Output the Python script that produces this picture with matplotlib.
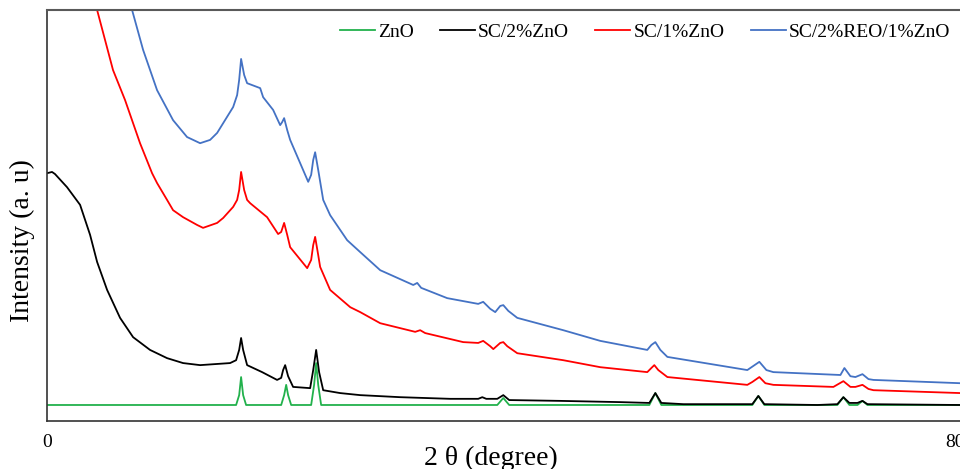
import matplotlib
matplotlib.use("Agg")
import matplotlib.pyplot as plt

# values (2 theta axis units, intensity in a.u. 0-100)
zno_x = [0.0, 16.65, 16.92, 17.09, 17.27, 17.53, 20.62, 20.88, 21.06, 21.23, 21.50,
         23.26, 23.52, 23.70, 23.88, 24.14, 39.65, 40.18, 40.70, 53.04, 53.57, 54.10,
         62.11, 62.64, 63.17, 69.60, 70.13, 70.66, 71.37, 71.81, 72.25, 80.4]
zno_y = [3.9, 3.9, 6.3, 10.7, 6.3, 3.9, 3.9, 6.3, 8.8, 6.3, 3.9,
         3.9, 8.8, 14.1, 8.8, 3.9, 3.9, 5.6, 3.9, 3.9, 6.8, 3.9,
         3.9, 6.1, 3.9, 3.9, 5.8, 3.9, 3.9, 4.9, 3.9, 3.9]

sc2_x = [0.0, 0.44, 0.70, 1.76, 2.91, 3.79, 4.41, 5.29, 6.43, 7.58, 9.07, 10.57,
         11.98, 13.48, 16.12, 16.65, 16.92, 17.09, 17.27, 17.62, 18.94, 20.26, 20.62,
         20.79, 20.97, 21.23, 21.67, 23.17, 23.44, 23.70, 23.96, 24.32, 25.81, 27.58,
         31.10, 35.51, 37.97, 38.33, 38.68, 39.65, 40.18, 40.70, 45.20, 50.48, 53.04,
         53.57, 54.10, 56.04, 62.11, 62.64, 63.17, 67.84, 69.60, 70.13, 70.66, 71.37,
         71.81, 72.25, 80.4]
sc2_y = [60.3, 60.6, 60.1, 56.9, 52.6, 45.3, 38.7, 31.9, 25.1, 20.4, 17.3, 15.3,
         14.1, 13.6, 14.1, 14.8, 17.3, 20.2, 17.3, 13.6, 11.9, 10.0, 10.5,
         12.4, 13.6, 10.9, 8.3, 8.0, 12.4, 17.3, 11.9, 7.5, 6.8, 6.3,
         5.8, 5.4, 5.4, 5.8, 5.4, 5.4, 6.3, 5.1, 4.9, 4.6, 4.4,
         6.8, 4.4, 4.1, 4.1, 6.1, 4.1, 3.9, 4.1, 5.8, 4.4, 4.4,
         4.9, 4.1, 3.9]

sc1_x = [3.79, 4.41, 5.11, 5.81, 6.87, 8.19, 9.25, 9.69, 10.57, 11.10, 11.98, 13.22,
         13.74, 14.98, 15.51, 16.39, 16.74, 16.92, 17.09, 17.36, 17.62, 17.89, 19.38,
         20.35, 20.62, 20.88, 21.15, 21.41, 22.91, 23.26, 23.44, 23.61, 23.88, 24.05,
         24.93, 26.70, 27.58, 29.34, 32.42, 32.86, 33.30, 36.65, 37.97, 38.41, 39.03,
         39.30, 39.91, 40.18, 40.53, 41.41, 45.46, 48.72, 52.86, 53.22, 53.48, 53.83,
         54.63, 61.67, 62.11, 62.73, 63.26, 63.96, 69.25, 70.13, 70.75, 71.19, 71.81,
         72.34, 72.78, 80.44]
sc1_y = [106.3, 100.0, 92.7, 85.4, 78.1, 67.6, 60.3, 57.9, 53.8, 51.3, 49.6, 47.7,
         47.0, 48.2, 49.4, 52.1, 53.8, 56.2, 60.6, 56.2, 53.8, 53.0, 49.6,
         45.5, 46.0, 48.2, 45.3, 42.3, 37.2, 39.2, 42.8, 44.8, 40.4, 37.5,
         31.9, 27.7, 26.5, 23.8, 21.7, 22.1, 21.4, 19.2, 19.0, 19.5, 18.2,
         17.5, 19.0, 19.2, 18.2, 16.5, 14.8, 13.1, 11.9, 12.9, 13.6, 12.4,
         10.7, 8.8, 9.5, 10.7, 9.2, 8.8, 8.3, 9.7, 8.3, 8.3, 8.8,
         7.8, 7.5, 6.8]

reo_x = [6.87, 7.49, 8.46, 9.69, 11.10, 12.33, 13.48, 14.36, 14.98, 16.39, 16.74, 16.92,
         17.09, 17.36, 17.62, 18.77, 19.03, 19.91, 20.53, 20.70, 20.88, 21.15, 21.41,
         23.00, 23.26, 23.44, 23.61, 23.88, 24.32, 24.93, 26.43, 27.58, 29.34, 32.25,
         32.60, 32.95, 35.24, 37.97, 38.41, 39.03, 39.47, 39.91, 40.18, 40.62, 41.41,
         45.46, 48.72, 52.86, 53.22, 53.57, 54.01, 54.63, 61.67, 62.20, 62.73, 63.35,
         63.96, 69.87, 70.22, 70.75, 71.19, 71.81, 72.34, 72.78, 80.44]
reo_y = [106.1, 100.0, 90.3, 80.5, 73.2, 69.1, 67.6, 68.4, 70.1, 76.4, 79.3, 83.0,
         88.1, 84.2, 82.2, 81.0, 78.8, 75.7, 72.0, 72.7, 73.7, 70.8, 68.4,
         58.2, 59.9, 63.5, 65.4, 61.1, 53.8, 50.1, 44.0, 41.1, 36.7, 33.1,
         33.6, 32.4, 29.9, 28.5, 29.0, 27.3, 26.5, 28.0, 28.2, 26.8, 25.1,
         22.1, 19.5, 17.3, 18.5, 19.2, 17.3, 15.6, 12.4, 13.4, 14.4, 12.4,
         11.9, 11.2, 12.9, 10.9, 10.7, 11.4, 10.2, 10.0, 9.2]

series = [
    ("ZnO", zno_x, zno_y, "#22B14C"),
    ("SC/2%ZnO", sc2_x, sc2_y, "#000000"),
    ("SC/1%ZnO", sc1_x, sc1_y, "#FF0000"),
    ("SC/2%REO/1%ZnO", reo_x, reo_y, "#4472C4"),
]

plt.rcParams["font.family"] = ["Liberation Serif", "DejaVu Serif"]

fig = plt.figure(figsize=(9.6, 4.69), dpi=100)
ax = fig.add_axes([0.049, 0.1023, 0.951, 0.8763])

for label, xs, ys, color in series:
    ax.plot(xs, ys, color=color, lw=1.3, label=label)

ax.set_xlim(0, 80.4)
ax.set_ylim(0, 100)
ax.set_xticks([0, 80])
ax.set_xticklabels(["0", "80"])
ax.set_yticks([])
ax.tick_params(axis="x", length=0, pad=9, labelsize=14)

ax.spines["right"].set_visible(False)
ax.spines["top"].set_color("#595959")
ax.spines["top"].set_linewidth(1.5)
for side in ("left", "bottom"):
    ax.spines[side].set_color("#333333")
    ax.spines[side].set_linewidth(1.2)

ax.set_xlabel("2 θ (degree)", fontsize=20)
ax.xaxis.set_label_coords(0.486, -0.06)
ax.set_ylabel("Intensity (a. u)", fontsize=20)
ax.yaxis.set_label_coords(-0.013, 0.44)

ax.legend(loc="upper right", bbox_to_anchor=(0.989, 0.968), ncol=4, frameon=False,
          fontsize=14, handlelength=1.8, handletextpad=0.15, columnspacing=1.35,
          borderpad=0, borderaxespad=0)

fig.savefig("out.png", dpi=100)
